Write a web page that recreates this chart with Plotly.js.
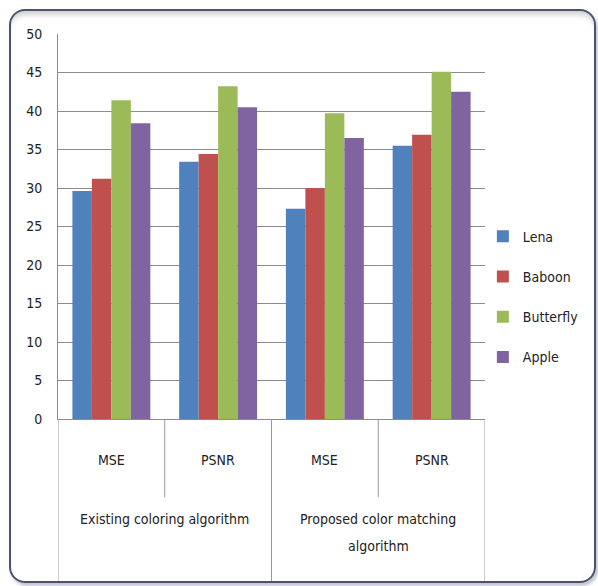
<!DOCTYPE html>
<html>
<head>
<meta charset="utf-8">
<script src="https://cdn.plot.ly/plotly-3.0.1.min.js"></script>
<style>
  html, body { margin: 0; padding: 0; background: #ffffff; }
  #wrap { position: relative; width: 598px; height: 586px; overflow: hidden; }
  #chart { position: absolute; left: 0; top: 0; width: 598px; height: 586px; }
  #frame {
    position: absolute; left: 9px; top: 9px; width: 583px; height: 570px;
    border: 2px solid #4a5270; border-radius: 16px;
    box-shadow: inset 0 7px 6px -4px rgba(0,0,0,0.22), 2px 3px 3px rgba(80,90,120,0.35);
    pointer-events: none;
  }
</style>
</head>
<body>
<div id="wrap">
  <div id="chart"></div>
  <div id="frame"></div>
</div>
<script>
// ---- data ----
const groups = ['Existing coloring algorithm', 'Proposed color matching<br>algorithm'];
const metrics = ['MSE', 'PSNR', 'MSE', 'PSNR'];
const categoryKeys = ['Existing|MSE', 'Existing|PSNR', 'Proposed|MSE', 'Proposed|PSNR'];
const seriesNames = ['Lena', 'Baboon', 'Butterfly', 'Apple'];
const lena      = [29.6, 33.4, 27.3, 35.5];
const baboon    = [31.2, 34.4, 30.0, 36.9];
const butterfly = [41.4, 43.2, 39.7, 45.1];
const apple     = [38.4, 40.5, 36.5, 42.5];
const colors = ['#4F81BD', '#C0504D', '#9BBB59', '#8064A2'];
const yTicks = [0, 5, 10, 15, 20, 25, 30, 35, 40, 45, 50];

const seriesValues = [lena, baboon, butterfly, apple];
const FONT = '"Liberation Sans Narrow", "DejaVu Sans Condensed", "Liberation Sans", Arial, sans-serif';

const traces = seriesNames.map((name, i) => ({
  type: 'bar',
  name: name,
  x: categoryKeys,
  y: seriesValues[i],
  marker: { color: colors[i], line: { width: 0 } },
  legendgroup: name,
  hoverinfo: 'x+y+name'
}));

const annotations = [];
metrics.forEach((m, i) => {
  annotations.push({
    x: i, xref: 'x', y: -0.107, yref: 'paper',
    text: m, showarrow: false, xanchor: 'center', yanchor: 'middle',
    font: { family: FONT, size: 14, color: '#222222' }
  });
});
groups.forEach((g, j) => {
  g.split('<br>').forEach((line, li) => {
    annotations.push({
      x: j * 2 + 0.5, xref: 'x', y: -0.259 - li * 0.07, yref: 'paper',
      text: line, showarrow: false, xanchor: 'center', yanchor: 'middle',
      font: { family: FONT, size: 14, color: '#222222' }
    });
  });
});

const shapes = [];
const divColor = '#9a9a9a';
for (let k = 0; k <= categoryKeys.length; k++) {
  const full = (k % 2 === 0);
  shapes.push({
    type: 'line', xref: 'x', yref: 'paper',
    x0: k - 0.5, x1: k - 0.5, y0: 0, y1: full ? -0.426 : -0.203,
    line: { color: divColor, width: 1 }
  });
}

const layout = {
  width: 598, height: 586,
  margin: { l: 58, r: 113, t: 34, b: 167, autoexpand: false },
  paper_bgcolor: 'rgba(0,0,0,0)',
  plot_bgcolor: 'rgba(0,0,0,0)',
  barmode: 'group',
  bargap: 0.27,
  bargroupgap: 0,
  showlegend: true,
  legend: {
    x: 0.995, xanchor: 'left', y: 0.515, yanchor: 'top',
    traceorder: 'grouped', tracegroupgap: 19,
    font: { family: FONT, size: 14, color: '#222222' },
    itemwidth: 30
  },
  xaxis: {
    type: 'category',
    range: [-0.5, 3.5],
    showticklabels: false,
    showgrid: false,
    zeroline: false,
    showline: true, linecolor: '#8c8c8c', linewidth: 1,
    ticks: ''
  },
  yaxis: {
    range: [0, 50],
    tickvals: yTicks,
    ticktext: yTicks.map(String),
    showgrid: true, gridcolor: '#8c8c8c', gridwidth: 1,
    zeroline: false,
    showline: true, linecolor: '#8c8c8c', linewidth: 1,
    ticks: '',
    ticklabelstandoff: 12,
    tickfont: { family: FONT, size: 14, color: '#222222' }
  },
  annotations: annotations,
  shapes: shapes
};

Plotly.newPlot('chart', traces, layout, { displayModeBar: false, staticPlot: true });
</script>
</body>
</html>
